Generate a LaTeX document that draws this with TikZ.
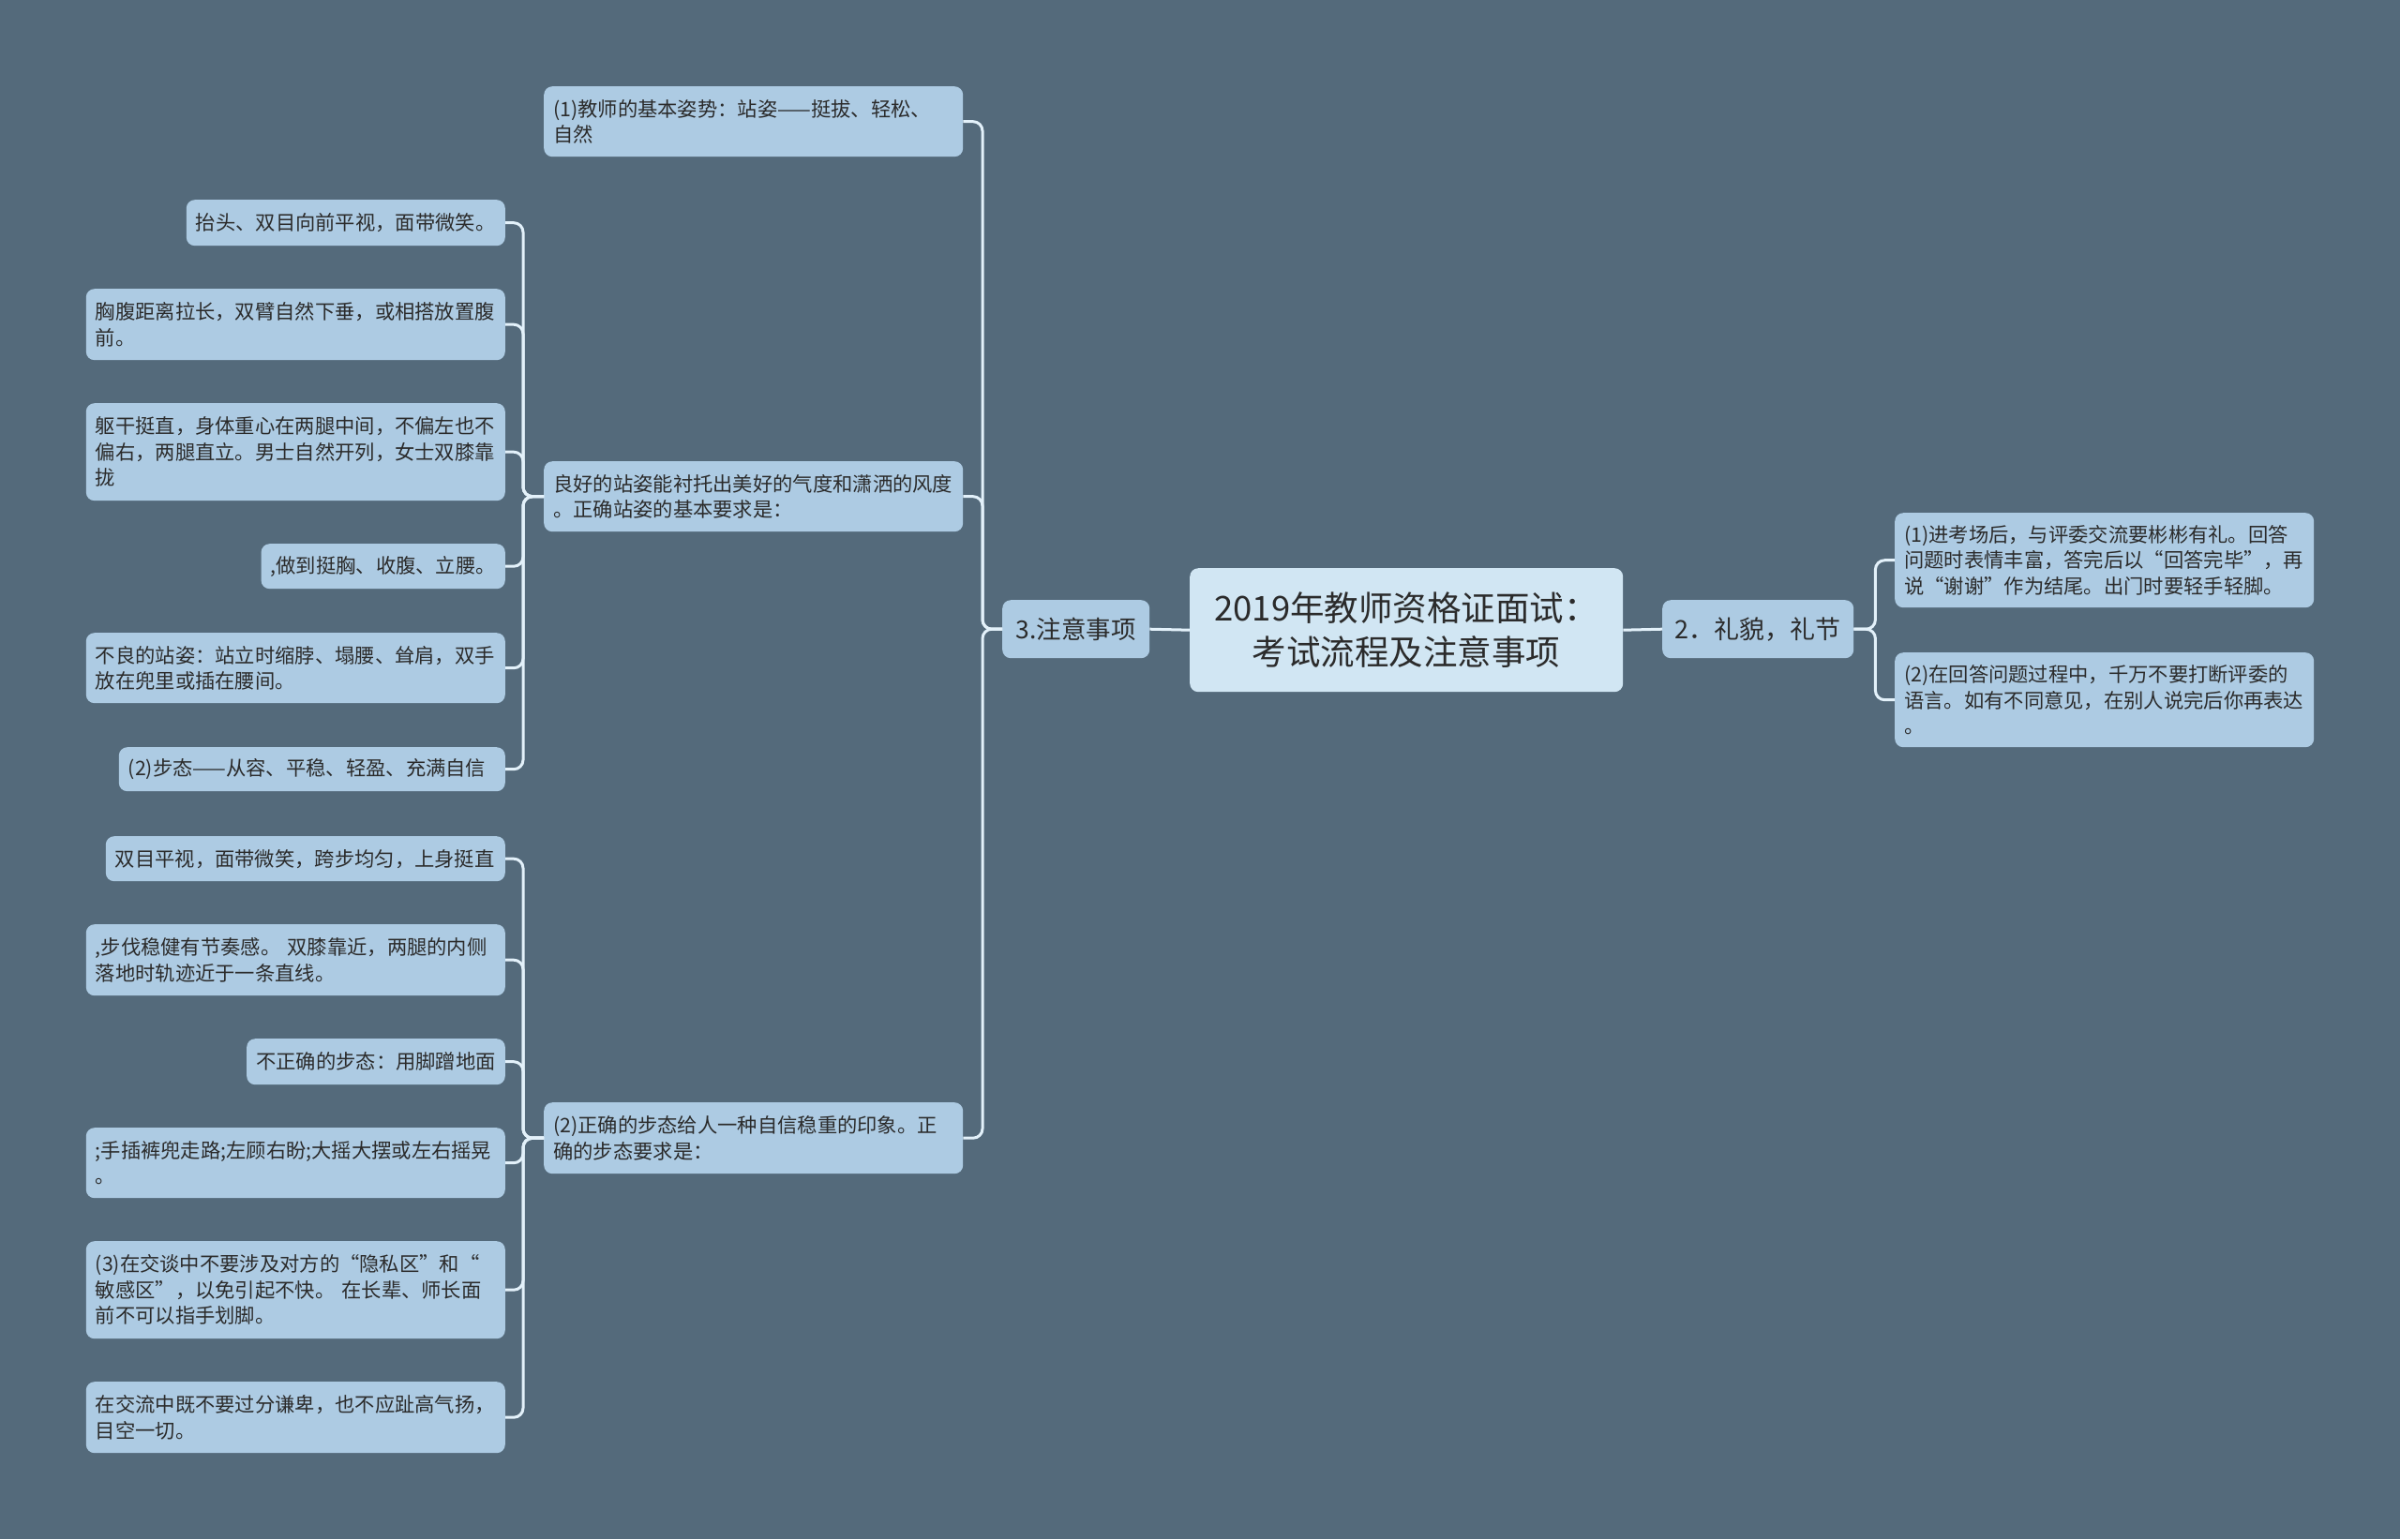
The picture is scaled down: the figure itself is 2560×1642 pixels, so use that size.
\documentclass[tikz,border=0pt]{standalone}
\usepackage{fontspec}
\newfontfamily\cjk{Noto Sans CJK SC}
\definecolor{bgc}{HTML}{546A7B}
\definecolor{boxc}{HTML}{ADCBE3}
\definecolor{rootc}{HTML}{D1E6F3}
\definecolor{linec}{HTML}{E3F1FA}
\definecolor{textc}{HTML}{2B2B2B}
\begin{document}
\begin{tikzpicture}[x=1pt,y=-1pt,
  box/.style={fill=boxc, rounded corners=9pt, inner xsep=10pt, inner ysep=6pt,
    font=\cjk\fontsize{21.3}{27.5}\selectfont, text=textc, align=left},
  wide/.style={box, text width=427pt},
  conn/.style={draw=linec, line width=3pt, rounded corners=10pt}]
\useasboundingbox (0,0) rectangle (2560,1642);
\fill[bgc] (0,0) rectangle (2560,1642);

% root and main branches
\node[box, fill=rootc, align=center, anchor=north west, minimum width=462pt, minimum height=132pt,
  font=\cjk\fontsize{36.5}{47}\selectfont] (root) at (1269,606) {2019年教师资格证面试：\\考试流程及注意事项};
\node[box, align=center, anchor=north west, minimum width=157pt, minimum height=62pt, inner xsep=3pt,
  font=\cjk\fontsize{26.5}{30}\selectfont] (n3) at (1069,640) {3.注意事项};
\node[box, align=center, anchor=north west, minimum width=204pt, minimum height=62pt, inner xsep=3pt,
  font=\cjk\fontsize{27}{30}\selectfont] (n2) at (1773,640) {2．礼貌，礼节};

% right side
\node[wide, anchor=north west, minimum height=101pt] (r1) at (2021,547) {(1)进考场后，与评委交流要彬彬有礼。回答\\问题时表情丰富，答完后以“回答完毕”，再\\说“谢谢”作为结尾。出门时要轻手轻脚。};
\node[wide, anchor=north west, minimum height=101pt] (r2) at (2021,696) {(2)在回答问题过程中，千万不要打断评委的\\语言。如有不同意见，在别人说完后你再表达\\。};

% level 2 left
\node[wide, anchor=north west, minimum height=75pt] (a1) at (580,92) {(1)教师的基本姿势：站姿——挺拔、轻松、\\自然};
\node[wide, anchor=north west, minimum height=75pt] (a2) at (580,492) {良好的站姿能衬托出美好的气度和潇洒的风度\\。正确站姿的基本要求是：};
\node[wide, anchor=north west, minimum height=76pt] (a3) at (580,1176) {(2)正确的步态给人一种自信稳重的印象。正\\确的步态要求是：};

% level 3, group 1
\node[box, text width=320pt, anchor=north east, minimum height=49pt] (b1) at (539,213) {抬头、双目向前平视，面带微笑。};
\node[wide, anchor=north east, minimum height=76pt] (b2) at (539,308) {胸腹距离拉长，双臂自然下垂，或相搭放置腹\\前。};
\node[wide, anchor=north east, minimum height=104pt] (b3) at (539,430) {躯干挺直，身体重心在两腿中间，不偏左也不\\偏右，两腿直立。男士自然开列，女士双膝靠\\拢};
\node[box, anchor=north east, minimum height=48pt] (b4) at (539,580) {,做到挺胸、收腹、立腰。};
\node[wide, anchor=north east, minimum height=75pt] (b5) at (539,675) {不良的站姿：站立时缩脖、塌腰、耸肩，双手\\放在兜里或插在腰间。};
\node[box, text width=392pt, anchor=north east, minimum height=47pt] (b6) at (539,797) {(2)步态——从容、平稳、轻盈、充满自信};

% level 3, group 2
\node[box, text width=406pt, anchor=north east, minimum height=48pt] (c1) at (539,892) {双目平视，面带微笑，跨步均匀，上身挺直};
\node[wide, anchor=north east, minimum height=76pt] (c2) at (539,986) {,步伐稳健有节奏感。 双膝靠近，两腿的内侧\\落地时轨迹近于一条直线。};
\node[box, anchor=north east, minimum height=49pt] (c3) at (539,1108) {不正确的步态：用脚蹭地面};
\node[wide, anchor=north east, minimum height=75pt] (c4) at (539,1203) {;手插裤兜走路;左顾右盼;大摇大摆或左右摇晃\\。};
\node[wide, anchor=north east, minimum height=104pt] (c5) at (539,1324) {(3)在交谈中不要涉及对方的“隐私区”和“\\敏感区”，以免引起不快。 在长辈、师长面\\前不可以指手划脚。};
\node[wide, anchor=north east, minimum height=76pt] (c6) at (539,1474) {在交流中既不要过分谦卑，也不应趾高气扬，\\目空一切。};

% connectors
\draw[conn] (root.west) -- (n3.east);
\draw[conn] (root.east) -- (n2.west);
\foreach \t in {r1,r2} \draw[conn] (n2.east) -- ++(23,0) |- (\t.west);
\foreach \t in {a1,a2,a3} \draw[conn] (n3.west) -- ++(-21,0) |- (\t.east);
\foreach \t in {b1,b2,b3,b4,b5,b6} \draw[conn] (a2.west) -- ++(-22,0) |- (\t.east);
\foreach \t in {c1,c2,c3,c4,c5,c6} \draw[conn] (a3.west) -- ++(-22,0) |- (\t.east);
\end{tikzpicture}
\end{document}
